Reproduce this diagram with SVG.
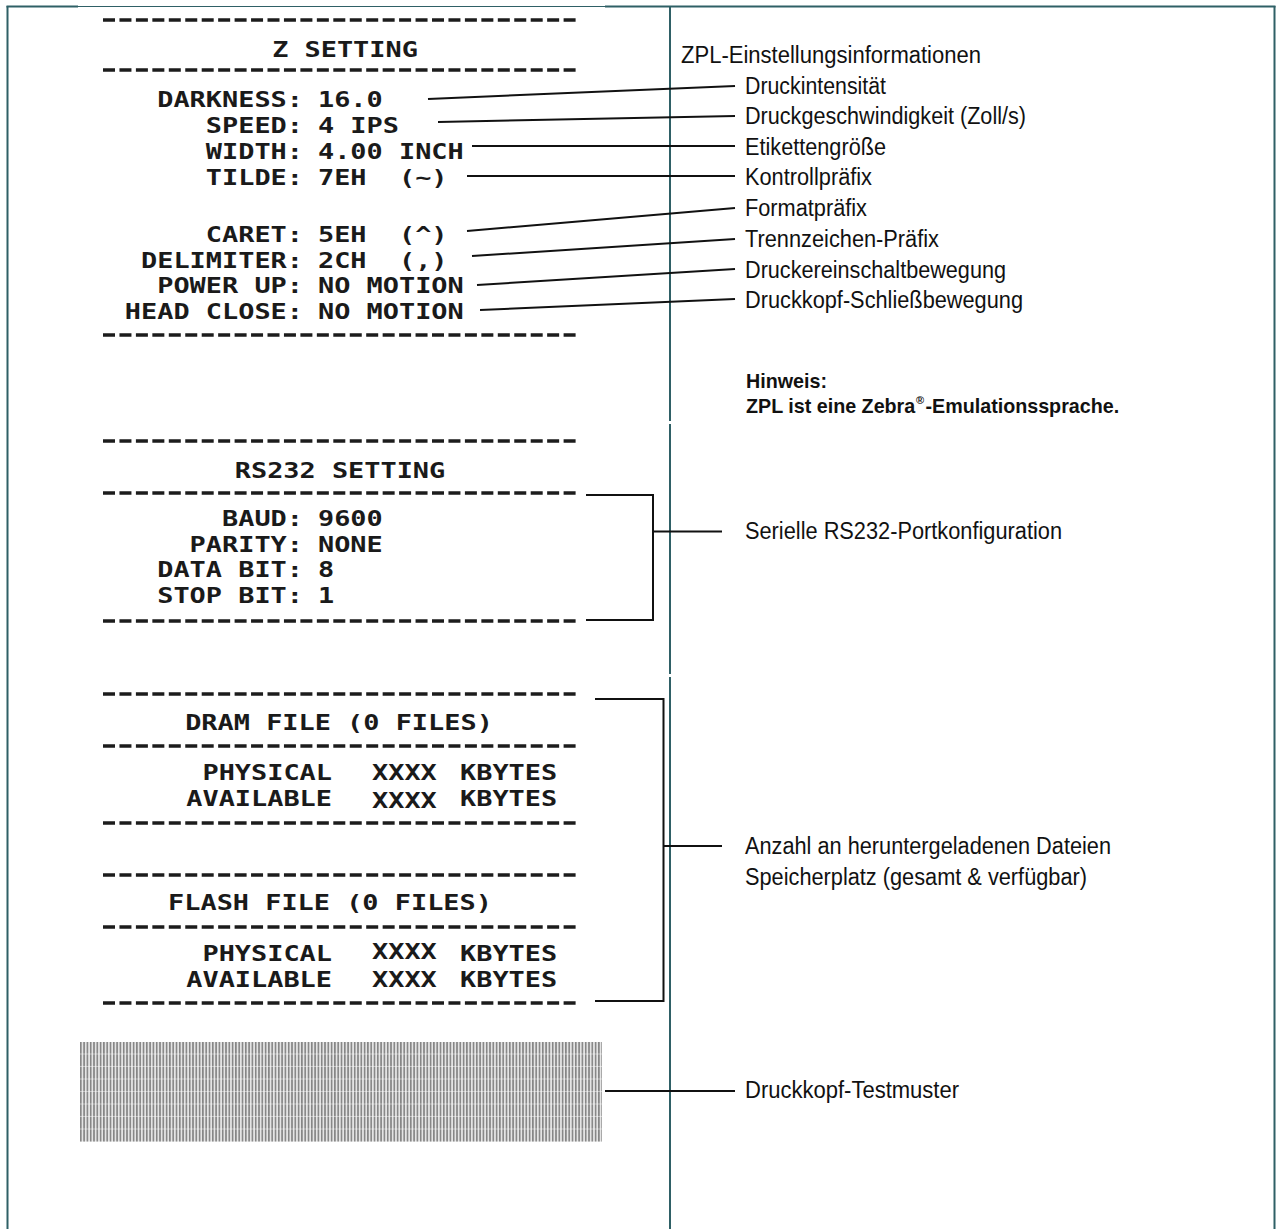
<svg xmlns="http://www.w3.org/2000/svg" width="1281" height="1229" viewBox="0 0 1281 1229">
<defs>
<pattern id="stripes" patternUnits="userSpaceOnUse" x="80" y="1042" width="3.3" height="12.5">
<rect width="3.3" height="12.5" fill="#e4e4e4"/>
<rect width="1.6" height="12.5" fill="#858585"/>
<rect y="11.5" width="3.3" height="1" fill="#ffffff" fill-opacity="0.45"/>
</pattern>
</defs>
<style>
.frame{stroke:#2f6066;stroke-width:2;fill:none}
.thin{stroke:#2f6066;stroke-width:1;fill:none}
.dash{stroke:#1c1c1c;stroke-width:3.5;stroke-dasharray:12 4.45;fill:none}
.mono{font-family:"DejaVu Sans Mono","Liberation Mono",monospace;font-weight:bold;font-size:21.5px;fill:#1a1a1a}
.lab{font-family:"Liberation Sans",Arial,sans-serif;font-size:23px;fill:#111}
.note{font-family:"Liberation Sans",Arial,sans-serif;font-size:19.7px;font-weight:bold;fill:#111}
.reg{font-family:"Liberation Sans",Arial,sans-serif;font-size:11px;font-weight:bold;fill:#111}
.lead{stroke:#111;stroke-width:2;fill:none}
.e{text-anchor:end}
.m{text-anchor:middle}
</style>
<rect width="1281" height="1229" fill="#ffffff"/>

<g id="frame">
<line class="frame" x1="7.5" y1="6" x2="7.5" y2="1229"/>
<line class="frame" x1="6.5" y1="6.5" x2="78" y2="6.5"/>
<line class="thin" x1="78" y1="6.5" x2="605" y2="6.5"/>
<line class="frame" x1="605" y1="6.5" x2="1275.5" y2="6.5"/>
<line class="frame" x1="1274.5" y1="6" x2="1274.5" y2="1229"/>
<line class="frame" x1="670" y1="6" x2="670" y2="421"/>
<line class="frame" x1="670" y1="424" x2="670" y2="674"/>
<line class="frame" x1="670" y1="677" x2="670" y2="1229"/>
</g>

<g id="z-setting">
<line class="dash" x1="103" y1="20" x2="576" y2="20"/>
<line class="dash" x1="103" y1="70" x2="576" y2="70"/>
<line class="dash" x1="103" y1="335" x2="576" y2="335"/>
<g transform="scale(1.2514,1)">
<text class="mono m" x="275.7" y="57">Z SETTING</text>
<text class="mono" y="107"><tspan class="e" x="242.1">DARKNESS:</tspan><tspan x="254.1">16.0</tspan></text>
<text class="mono" y="133"><tspan class="e" x="242.1">SPEED:</tspan><tspan x="254.1">4 IPS</tspan></text>
<text class="mono" y="159"><tspan class="e" x="242.1">WIDTH:</tspan><tspan x="254.1">4.00 INCH</tspan></text>
<text class="mono" y="185"><tspan class="e" x="242.1">TILDE:</tspan><tspan x="254.1">7EH</tspan><tspan x="318.8">(~)</tspan></text>
<text class="mono" y="242.5"><tspan class="e" x="242.1">CARET:</tspan><tspan x="254.1">5EH</tspan><tspan x="318.8">(^)</tspan></text>
<text class="mono" y="268"><tspan class="e" x="242.1">DELIMITER:</tspan><tspan x="254.1">2CH</tspan><tspan x="318.8">(,)</tspan></text>
<text class="mono" y="293.5"><tspan class="e" x="242.1">POWER UP:</tspan><tspan x="254.1">NO MOTION</tspan></text>
<text class="mono" y="319"><tspan class="e" x="242.1">HEAD CLOSE:</tspan><tspan x="254.1">NO MOTION</tspan></text>
</g>
</g>

<g id="rs232-setting">
<line class="dash" x1="103" y1="441" x2="576" y2="441"/>
<line class="dash" x1="103" y1="493" x2="576" y2="493"/>
<line class="dash" x1="103" y1="621" x2="576" y2="621"/>
<g transform="scale(1.2514,1)">
<text class="mono m" x="271.7" y="478">RS232 SETTING</text>
<text class="mono" y="526.5"><tspan class="e" x="242.1">BAUD:</tspan><tspan x="254.1">9600</tspan></text>
<text class="mono" y="552"><tspan class="e" x="242.1">PARITY:</tspan><tspan x="254.1">NONE</tspan></text>
<text class="mono" y="577.5"><tspan class="e" x="242.1">DATA BIT:</tspan><tspan x="254.1">8</tspan></text>
<text class="mono" y="603"><tspan class="e" x="242.1">STOP BIT:</tspan><tspan x="254.1">1</tspan></text>
</g>
</g>

<g id="dram-file">
<line class="dash" x1="103" y1="694" x2="576" y2="694"/>
<line class="dash" x1="103" y1="746" x2="576" y2="746"/>
<line class="dash" x1="103" y1="823" x2="576" y2="823"/>
<g transform="scale(1.2514,1)">
<text class="mono m" x="270.9" y="730">DRAM FILE (0 FILES)</text>
<text class="mono" y="780.5"><tspan class="e" x="265.3">PHYSICAL</tspan><tspan x="297.3">XXXX</tspan><tspan x="367.6">KBYTES</tspan></text>
<text class="mono" y="806"><tspan class="e" x="265.3">AVAILABLE</tspan><tspan x="297.3" dy="2">XXXX</tspan><tspan x="367.6" dy="-2">KBYTES</tspan></text>
</g>
</g>

<g id="flash-file">
<line class="dash" x1="103" y1="875" x2="576" y2="875"/>
<line class="dash" x1="103" y1="927" x2="576" y2="927"/>
<line class="dash" x1="103" y1="1003" x2="576" y2="1003"/>
<g transform="scale(1.2514,1)">
<text class="mono m" x="263.7" y="910">FLASH FILE (0 FILES)</text>
<text class="mono" y="961"><tspan class="e" x="265.3">PHYSICAL</tspan><tspan x="297.3" dy="-2">XXXX</tspan><tspan x="367.6" dy="2">KBYTES</tspan></text>
<text class="mono" y="987"><tspan class="e" x="265.3">AVAILABLE</tspan><tspan x="297.3">XXXX</tspan><tspan x="367.6">KBYTES</tspan></text>
</g>
</g>

<g id="test-pattern">
<rect x="80" y="1042" width="522" height="100" fill="url(#stripes)"/>
</g>

<g id="labels">
<text id="lbl-zpl" class="lab" x="681" y="63" textLength="300" lengthAdjust="spacingAndGlyphs">ZPL-Einstellungsinformationen</text>
<text id="lbl-darkness" class="lab" x="745" y="94" textLength="141" lengthAdjust="spacingAndGlyphs">Druckintensität</text>
<text id="lbl-speed" class="lab" x="745" y="124" textLength="281" lengthAdjust="spacingAndGlyphs">Druckgeschwindigkeit (Zoll/s)</text>
<text id="lbl-width" class="lab" x="745" y="155" textLength="141" lengthAdjust="spacingAndGlyphs">Etikettengröße</text>
<text id="lbl-tilde" class="lab" x="745" y="185" textLength="127" lengthAdjust="spacingAndGlyphs">Kontrollpräfix</text>
<text id="lbl-caret" class="lab" x="745" y="216" textLength="122" lengthAdjust="spacingAndGlyphs">Formatpräfix</text>
<text id="lbl-delim" class="lab" x="745" y="247" textLength="194" lengthAdjust="spacingAndGlyphs">Trennzeichen-Präfix</text>
<text id="lbl-powerup" class="lab" x="745" y="278" textLength="261" lengthAdjust="spacingAndGlyphs">Druckereinschaltbewegung</text>
<text id="lbl-headclose" class="lab" x="745" y="308" textLength="278" lengthAdjust="spacingAndGlyphs">Druckkopf-Schließbewegung</text>
<g id="note">
<text class="note" x="746" y="388">Hinweis:</text>
<text class="note" x="746" y="413">ZPL ist eine Zebra</text>
<text class="reg" x="916" y="404">®</text>
<text class="note" x="925.5" y="413">-Emulationssprache.</text>
</g>
<text id="lbl-rs232" class="lab" x="745" y="539" textLength="317" lengthAdjust="spacingAndGlyphs">Serielle RS232-Portkonfiguration</text>
<text id="lbl-files" class="lab" x="745" y="854" textLength="366" lengthAdjust="spacingAndGlyphs">Anzahl an heruntergeladenen Dateien</text>
<text id="lbl-memory" class="lab" x="745" y="885" textLength="342" lengthAdjust="spacingAndGlyphs">Speicherplatz (gesamt &amp; verfügbar)</text>
<text id="lbl-testpattern" class="lab" x="745" y="1098" textLength="214" lengthAdjust="spacingAndGlyphs">Druckkopf-Testmuster</text>
</g>

<g id="connectors">
<line class="lead" x1="428" y1="99" x2="735" y2="86"/>
<line class="lead" x1="438" y1="122" x2="735" y2="116"/>
<line class="lead" x1="472" y1="146" x2="735" y2="146"/>
<line class="lead" x1="467" y1="176" x2="735" y2="176"/>
<line class="lead" x1="467" y1="231" x2="735" y2="208"/>
<line class="lead" x1="472" y1="256" x2="735" y2="239"/>
<line class="lead" x1="477" y1="285" x2="735" y2="269"/>
<line class="lead" x1="480" y1="310" x2="735" y2="299"/>
<polyline class="lead" points="586,495 653,495 653,620 586,620"/>
<line class="lead" x1="653" y1="531.5" x2="722" y2="531.5"/>
<polyline class="lead" points="595,699 663.5,699 663.5,1001 595,1001"/>
<line class="lead" x1="663.5" y1="846" x2="722" y2="846"/>
<line class="lead" x1="605" y1="1091" x2="735" y2="1091"/>
</g>
</svg>
